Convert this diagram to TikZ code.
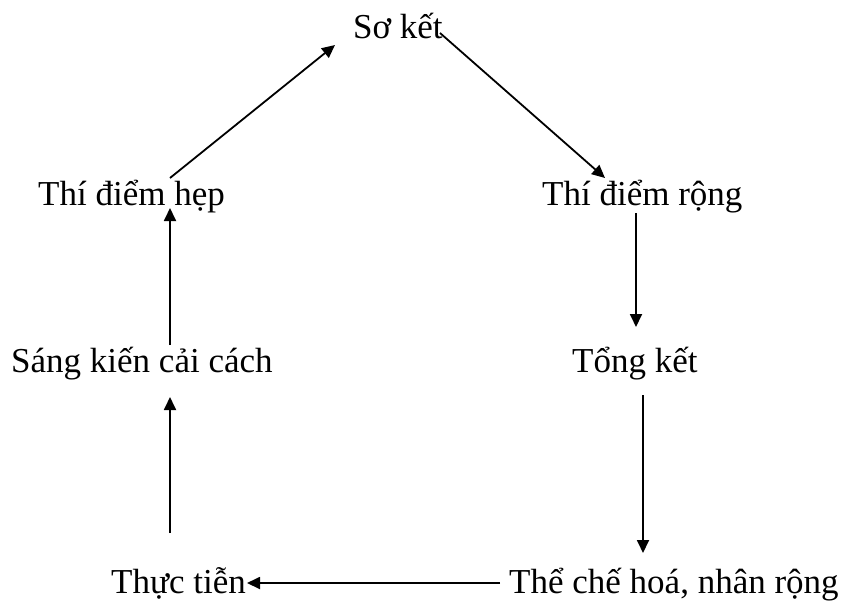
\documentclass[tikz,border=0pt]{standalone}
\usepackage{fontspec}
\setmainfont{Liberation Serif}
\usetikzlibrary{arrows.meta}
\begin{document}
\begin{tikzpicture}[x=1pt,y=-1pt,
  lbl/.style={anchor=base west,inner sep=0pt,font=\fontsize{35}{40}\selectfont},
  arr/.style={line width=1.8pt,-{Triangle[length=13pt,width=12pt]}}]
\useasboundingbox (0,0) rectangle (843,603);
\node[lbl] (so)   at (353,38)  {Sơ kết};
\node[lbl] (hep)  at (38,205)  {Thí điểm hẹp};
\node[lbl] (rong) at (542,205) {Thí điểm rộng};
\node[lbl] (sang) at (11,372)  {Sáng kiến cải cách};
\node[lbl] (tong) at (572,372) {Tổng kết};
\node[lbl] (thuc) at (111,593) {Thực tiễn};
\node[lbl] (the)  at (509,593) {Thể chế hoá, nhân rộng};
\draw[arr] ([shift={(132,-27)}]hep.base west) -- ([shift={(-18,7)}]so.base west);
\draw[arr] ([shift={(87,-5)}]so.base west) -- ([shift={(63,-27)}]rong.base west);
\draw[arr] ([shift={(94,8)}]rong.base west) -- ([shift={(64,-45)}]tong.base west);
\draw[arr] ([shift={(71,23)}]tong.base west) -- ([shift={(134,-40)}]the.base west);
\draw[arr] ([shift={(-9,-10)}]the.base west) -- ([shift={(136,-10)}]thuc.base west);
\draw[arr] ([shift={(59,-60)}]thuc.base west) -- ([shift={(159,25)}]sang.base west);
\draw[arr] ([shift={(159,-27)}]sang.base west) -- ([shift={(132,3)}]hep.base west);
\end{tikzpicture}
\end{document}
